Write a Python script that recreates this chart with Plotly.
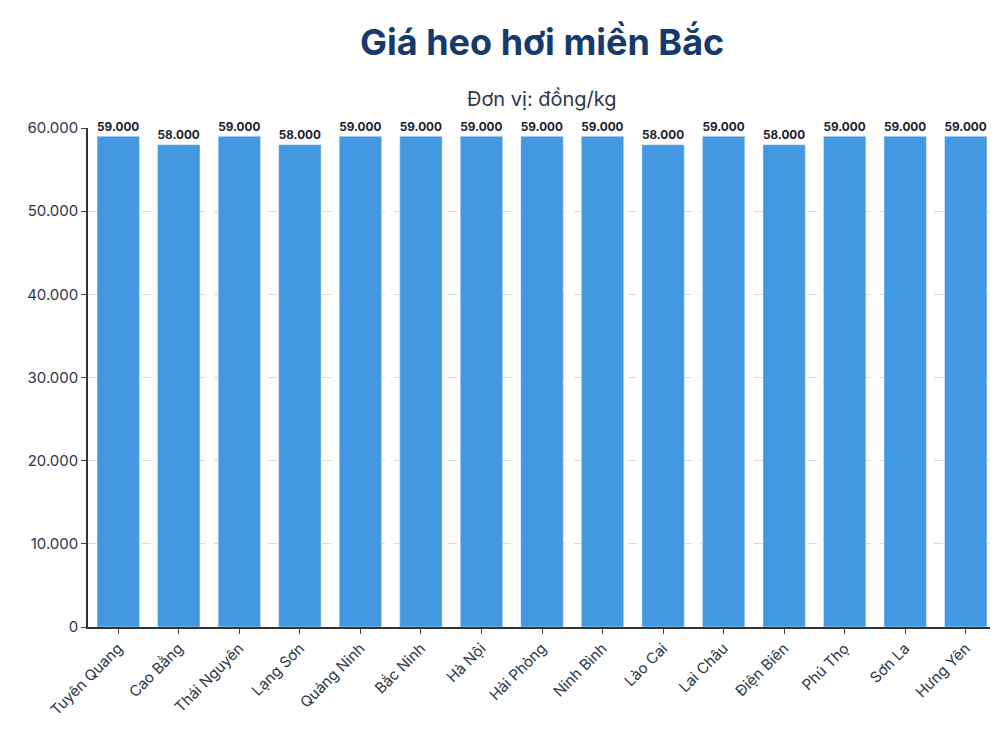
import plotly.graph_objects as go

provinces = ["Tuyên Quang","Cao Bằng","Thái Nguyên","Lạng Sơn","Quảng Ninh","Bắc Ninh","Hà Nội",
             "Hải Phòng","Ninh Bình","Lào Cai","Lai Châu","Điện Biên","Phú Thọ","Sơn La","Hưng Yên"]
prices = [59000,58000,59000,58000,59000,59000,59000,59000,59000,58000,59000,58000,59000,59000,59000]
yticks = [0,10000,20000,30000,40000,50000,60000]
ytext = ["0","10.000","20.000","30.000","40.000","50.000","60.000"]

fig = go.Figure(go.Bar(
    x=provinces, y=prices, marker_color="#4299e1", width=0.7,
    text=[f"<b>{v:,}</b>".replace(",", ".") for v in prices], textposition="outside",
    textfont=dict(size=13, color="#1a202c", family="Inter"), cliponaxis=False))

fig.update_layout(
    width=998, height=748, plot_bgcolor="white", paper_bgcolor="white",
    font=dict(family="Inter", color="#2d3748"),
    margin=dict(l=80, r=10, t=120, b=129, autoexpand=False),
    showlegend=False, bargap=0.3,
    annotations=[
        dict(text="<b>Giá heo hơi miền Bắc</b>", x=0.5, y=34, xref="paper", yref="paper",
             yanchor="middle", showarrow=False, font=dict(size=36, color="#163a6b", family="Inter"),
             xanchor="center"),
        dict(text="Đơn vị: đồng/kg", x=0.5, xref="paper", yref="paper", showarrow=False,
             font=dict(size=20, color="#2d3748", family="Inter"), xanchor="center"),
    ],
)
# place annotations in pixel terms: paper height = 748-120-129 = 499
ph = 499
fig.layout.annotations[0].y = 1 + (120 - 34) / ph
fig.layout.annotations[1].y = 1 + (120 - 77) / ph
fig.update_yaxes(range=[0, 60000], tickvals=yticks, ticktext=ytext, showgrid=True,
                 gridcolor="#d5dbe3", griddash="dash", showline=True, linecolor="#333", linewidth=1.5,
                 ticks="outside", tickfont=dict(size=15, color="#2d3748"), zeroline=False, automargin=False)
fig.update_xaxes(tickangle=-45, showline=True, linecolor="#333", linewidth=1.5,
                 tickfont=dict(size=15, color="#2d3748"), ticks="outside", automargin=False)
fig.write_html("out.html")
